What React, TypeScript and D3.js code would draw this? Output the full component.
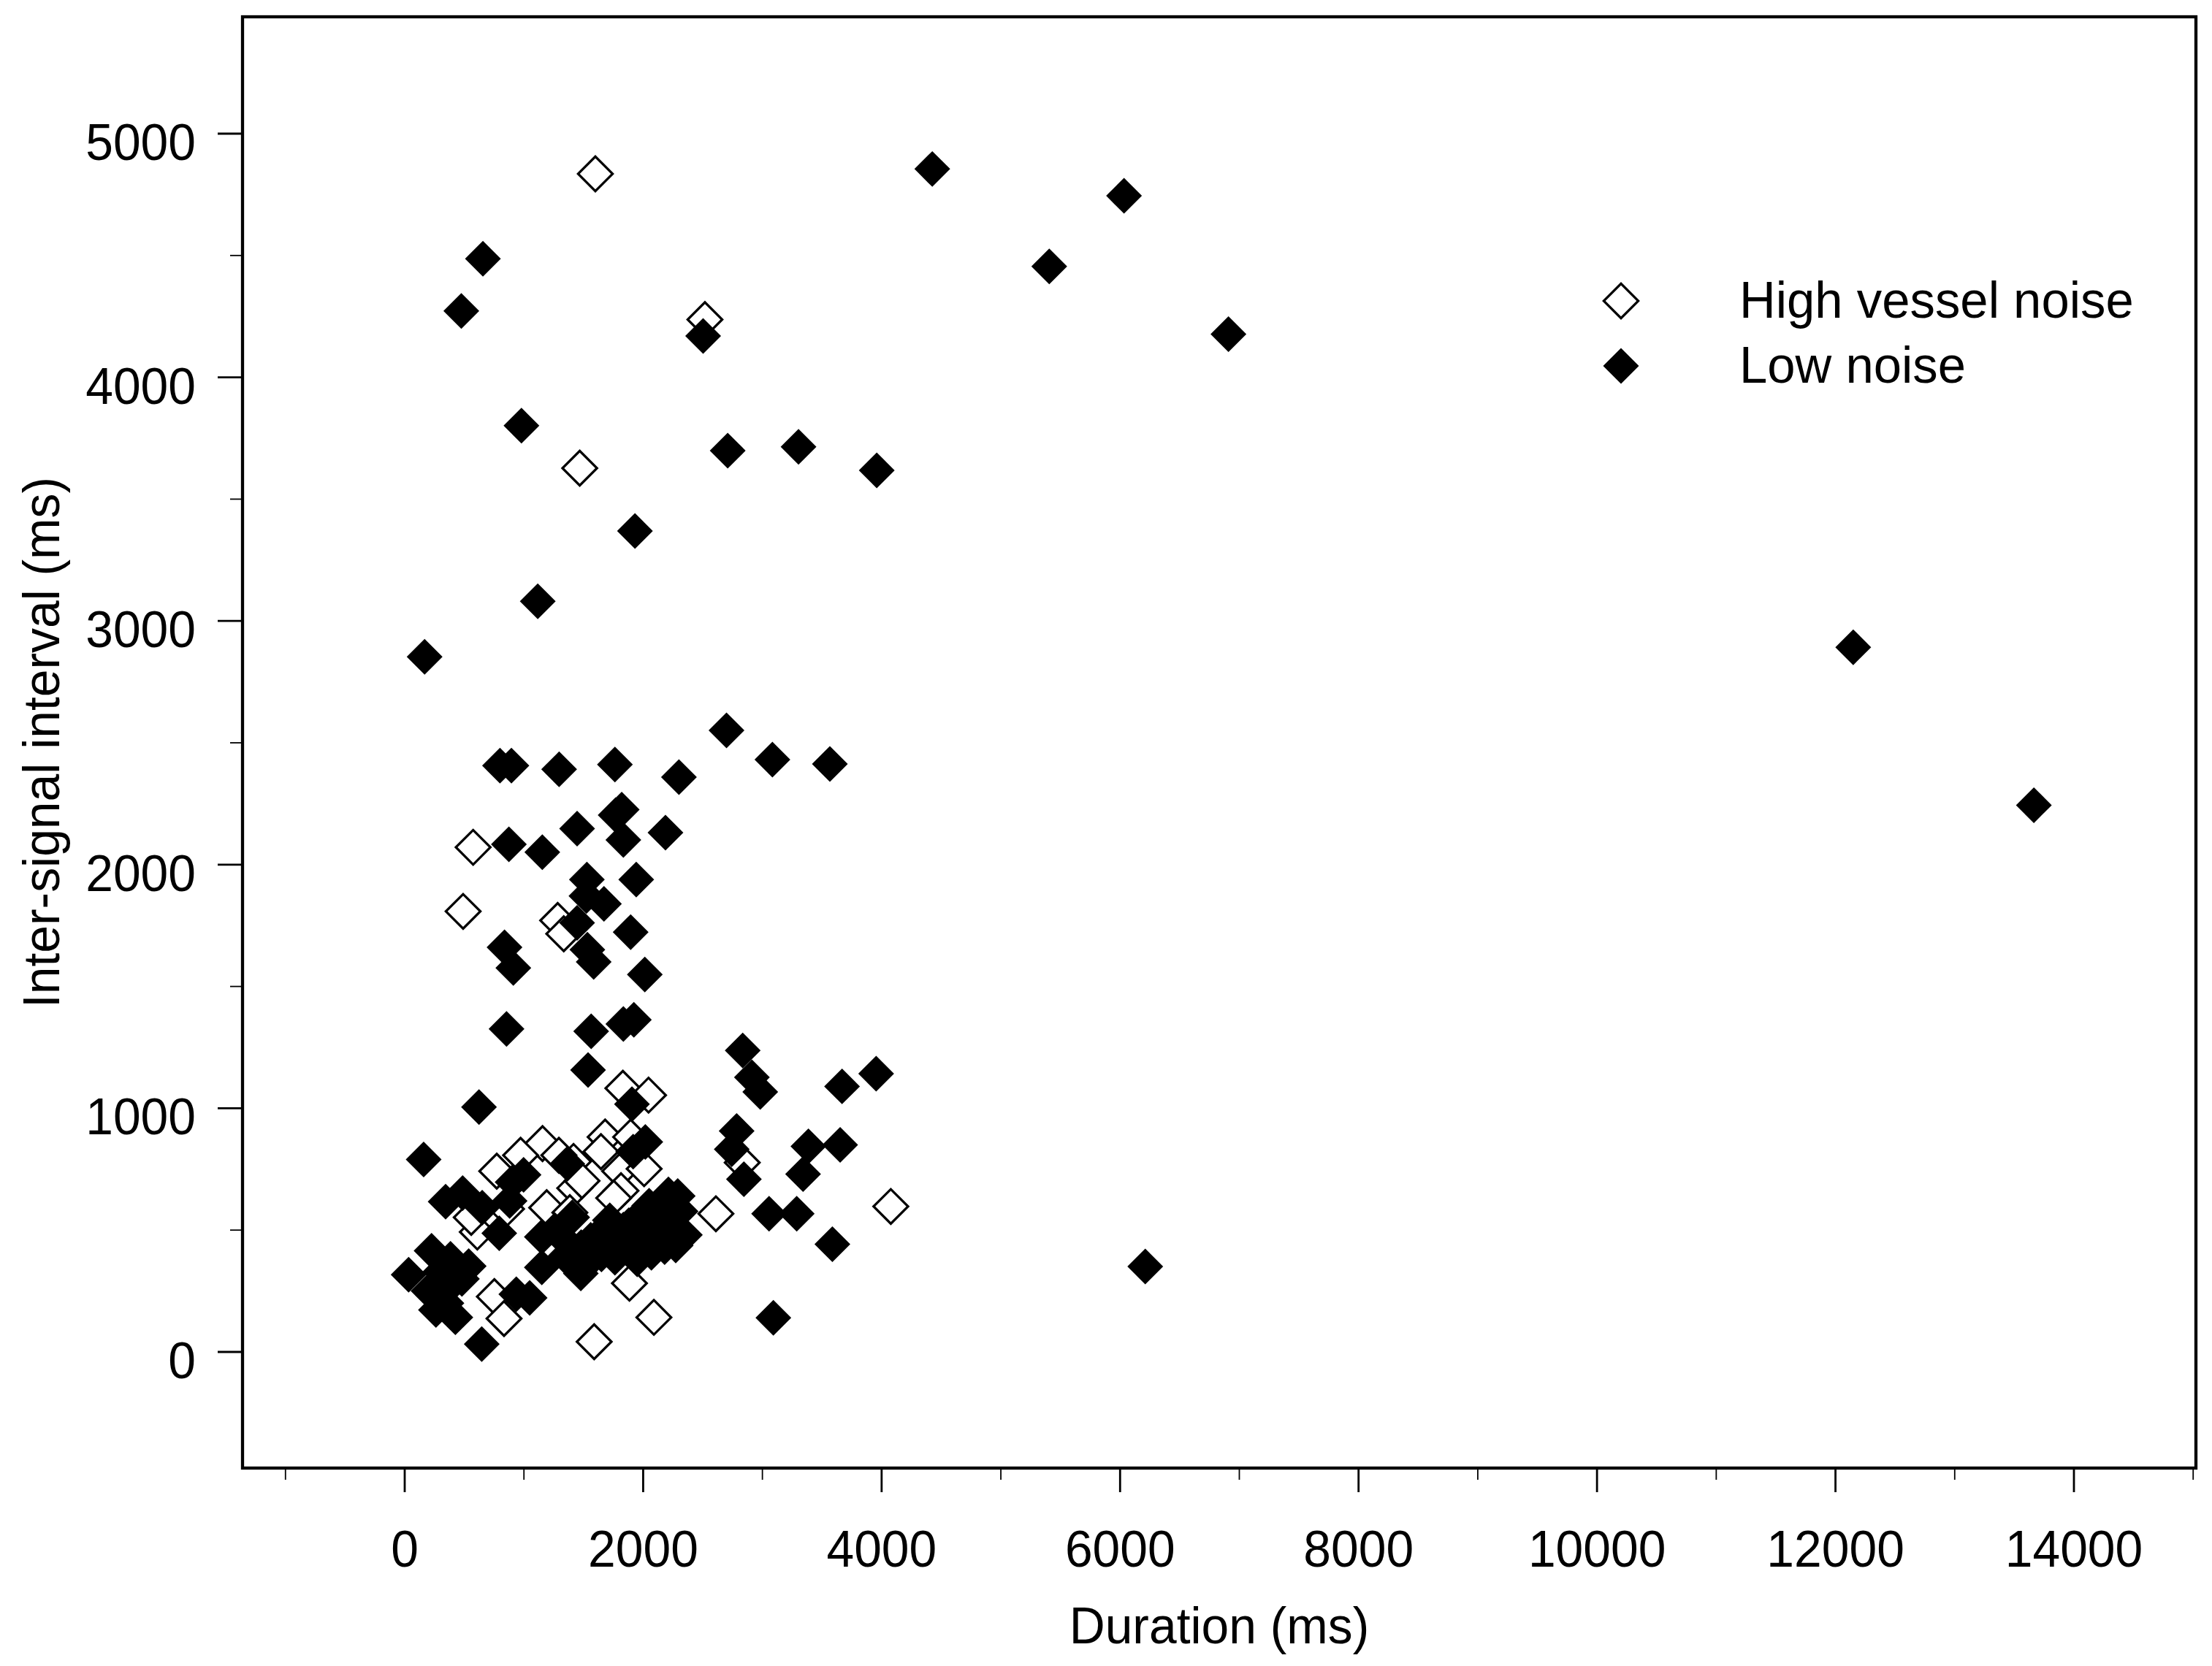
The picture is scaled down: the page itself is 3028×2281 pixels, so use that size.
import * as d3 from "d3"

// Duration (ms) / inter-signal interval (ms)
const highDuration = [
  1599, 2518, 1468, 574, 490, 1283, 1334, 1830, 2045, 1156, 972, 772, 1681, 1646, 1416, 1293, 1803, 2008,
  1814, 1426, 1487, 1191, 1385, 1753, 609, 558, 854, 1885, 2090, 1589, 752, 833, 2610, 1895, 2831, 4077,
]
const highInterval = [
  4835, 4237, 3627, 2071, 1808, 1771, 1716, 1082, 1054, 855, 807, 742, 882, 822, 782, 807, 742, 752,
  662, 672, 702, 592, 572, 632, 492, 552, 587, 282, 142, 42, 227, 137, 567, 882, 777, 597,
]

const lowDuration = [
  4425, 6033, 5406, 6909, 656, 475, 2503, 979, 2709, 3303, 3959, 1931, 1116, 167, 2699, 3084, 3566, 12149,
  13664, 6211, 799, 895, 1295, 1763, 2300, 1820, 1769, 1446, 2187, 874, 1154, 1834, 1528, 1942, 1524, 1671,
  1446, 1895, 1532, 1585, 837, 911, 2014, 854, 1564, 1834, 1922, 3386, 3652, 3341, 3056, 3288, 3587, 3092,
  3668, 3954, 2912, 2982, 2835, 2784, 2743, 2845, 1538, 623, 1906, 159, 2018, 1916, 1364, 905, 997, 343,
  486, 650, 793, 1150, 1314, 1150, 1477, 1344, 1630, 1834, 1957, 2212, 2314, 2181, 2273, 2140, 2069, 1916,
  1763, 1589, 1405, 33, 225, 384, 537, 282, 262, 425, 646, 1048, 936,
  // hidden in the dense block near the origin
  1700, 1800, 1880, 2000, 2100, 2230, 2350, 2290, 1650, 1480, 1720, 2050, 1950, 2180, 1560, 1260,
  300, 420, 350, 480, 200, 880,
]
const lowInterval = [
  4855, 4745, 4455, 4177, 4487, 4272, 4170, 3802, 3699, 3715, 3618, 3369, 3081, 2853, 2551, 2431, 2413, 2892,
  2244, 351, 2406, 2406, 2391, 2411, 2359, 2226, 2203, 2148, 2131, 2083, 2051, 2101, 1939, 1939, 1871, 1839,
  1761, 1723, 1651, 1601, 1661, 1576, 1549, 1326, 1316, 1346, 1363, 844, 850, 730, 567, 567, 442, 140,
  1090, 1142, 1127, 1067, 1237, 907, 832, 709, 1157, 1005, 1017, 790, 862, 822, 772, 697, 727, 617,
  652, 592, 487, 472, 472, 347, 322, 392, 482, 502, 552, 647, 577, 562, 437, 502, 407, 432,
  387, 392, 552, 317, 415, 382, 352, 247, 172, 142, 32, 222, 237,
  450, 420, 520, 470, 560, 520, 480, 640, 400, 430, 540, 600, 380, 430, 460, 500,
  330, 290, 200, 300, 250, 620,
]

const xMajor = [0, 2000, 4000, 6000, 8000, 10000, 12000, 14000]
const xMinor = [-1000, 1000, 3000, 5000, 7000, 9000, 11000, 13000, 15000]
const yMajor = [0, 1000, 2000, 3000, 4000, 5000]
const yMinor = [500, 1500, 2500, 3500, 4500]

const seriesNames = ["High vessel noise", "Low noise"]

const W = 3028
const H = 2281
const frame = { left: 332, right: 3006, top: 23, bottom: 2010 }
const FONT = "'Liberation Sans', Arial, Helvetica, sans-serif"
const FS = 71
const SQ = 0.955 // the original type is a touch narrower
const SQ_LEG = 0.97

export default function App() {
  const x = d3.scaleLinear().domain([0, 14000]).range([554, 2839])
  const y = d3.scaleLinear().domain([0, 5000]).range([1851, 183])

  const filledPath = d3.symbol(d3.symbolSquare, 1200)() as string
  const openPath = d3.symbol(d3.symbolSquare, 1114)() as string

  const high = highDuration.map((d, i) => ({ d, v: highInterval[i] }))
  const low = lowDuration.map((d, i) => ({ d, v: lowInterval[i] }))

  const cx = (frame.left + frame.right) / 2
  const cy = (frame.top + frame.bottom) / 2

  return (
    <svg
      width={W}
      height={H}
      viewBox={`0 0 ${W} ${H}`}
      style={{ position: "absolute", left: 0, top: 0, background: "#fff" }}
      fontFamily={FONT}
    >
      <rect x={0} y={0} width={W} height={H} fill="#fff" />

      {/* points: open series underneath, filled on top */}
      <g>
        {high.map((p, i) => (
          <path
            key={"h" + i}
            d={openPath}
            transform={`translate(${x(p.d)},${y(p.v)}) rotate(45)`}
            fill="#fff"
            stroke="#000"
            strokeWidth={3.3}
          />
        ))}
        {low.map((p, i) => (
          <path key={"l" + i} d={filledPath} transform={`translate(${x(p.d)},${y(p.v)}) rotate(45)`} fill="#000" />
        ))}
      </g>

      {/* frame */}
      <rect
        x={frame.left}
        y={frame.top}
        width={frame.right - frame.left}
        height={frame.bottom - frame.top}
        fill="none"
        stroke="#000"
        strokeWidth={4.3}
      />

      {/* x axis */}
      <g>
        {xMajor.map((t) => (
          <g key={"xM" + t}>
            <line x1={x(t)} x2={x(t)} y1={frame.bottom} y2={frame.bottom + 33} stroke="#000" strokeWidth={2.8} />
            <text transform={`translate(${x(t)},2145) scale(${SQ},1)`} textAnchor="middle" fontSize={FS}>
              {t}
            </text>
          </g>
        ))}
        {xMinor.map((t) => (
          <line key={"xm" + t} x1={x(t)} x2={x(t)} y1={frame.bottom} y2={frame.bottom + 16} stroke="#000" strokeWidth={1.8} />
        ))}
        <text transform={`translate(${cx},2250) scale(${SQ},1)`} textAnchor="middle" fontSize={FS}>
          Duration (ms)
        </text>
      </g>

      {/* y axis */}
      <g>
        {yMajor.map((t) => (
          <g key={"yM" + t}>
            <line x1={frame.left - 34} x2={frame.left} y1={y(t)} y2={y(t)} stroke="#000" strokeWidth={2.8} />
            <text transform={`translate(268,${y(t) + 36}) scale(${SQ},1)`} textAnchor="end" fontSize={FS}>
              {t}
            </text>
          </g>
        ))}
        {yMinor.map((t) => (
          <line key={"ym" + t} x1={frame.left - 17} x2={frame.left} y1={y(t)} y2={y(t)} stroke="#000" strokeWidth={1.8} />
        ))}
        <text transform={`translate(81,${cy}) rotate(-90) scale(${SQ},1)`} textAnchor="middle" fontSize={FS}>
          Inter-signal interval (ms)
        </text>
      </g>

      {/* legend */}
      <g>
        <path d={openPath} transform="translate(2219,412) rotate(45)" fill="#fff" stroke="#000" strokeWidth={3.3} />
        <text transform={`translate(2381,435) scale(${SQ_LEG},1)`} fontSize={FS}>
          {seriesNames[0]}
        </text>
        <path d={filledPath} transform="translate(2219,501) rotate(45)" fill="#000" />
        <text transform={`translate(2381,524) scale(${SQ_LEG},1)`} fontSize={FS}>
          {seriesNames[1]}
        </text>
      </g>
    </svg>
  )
}
